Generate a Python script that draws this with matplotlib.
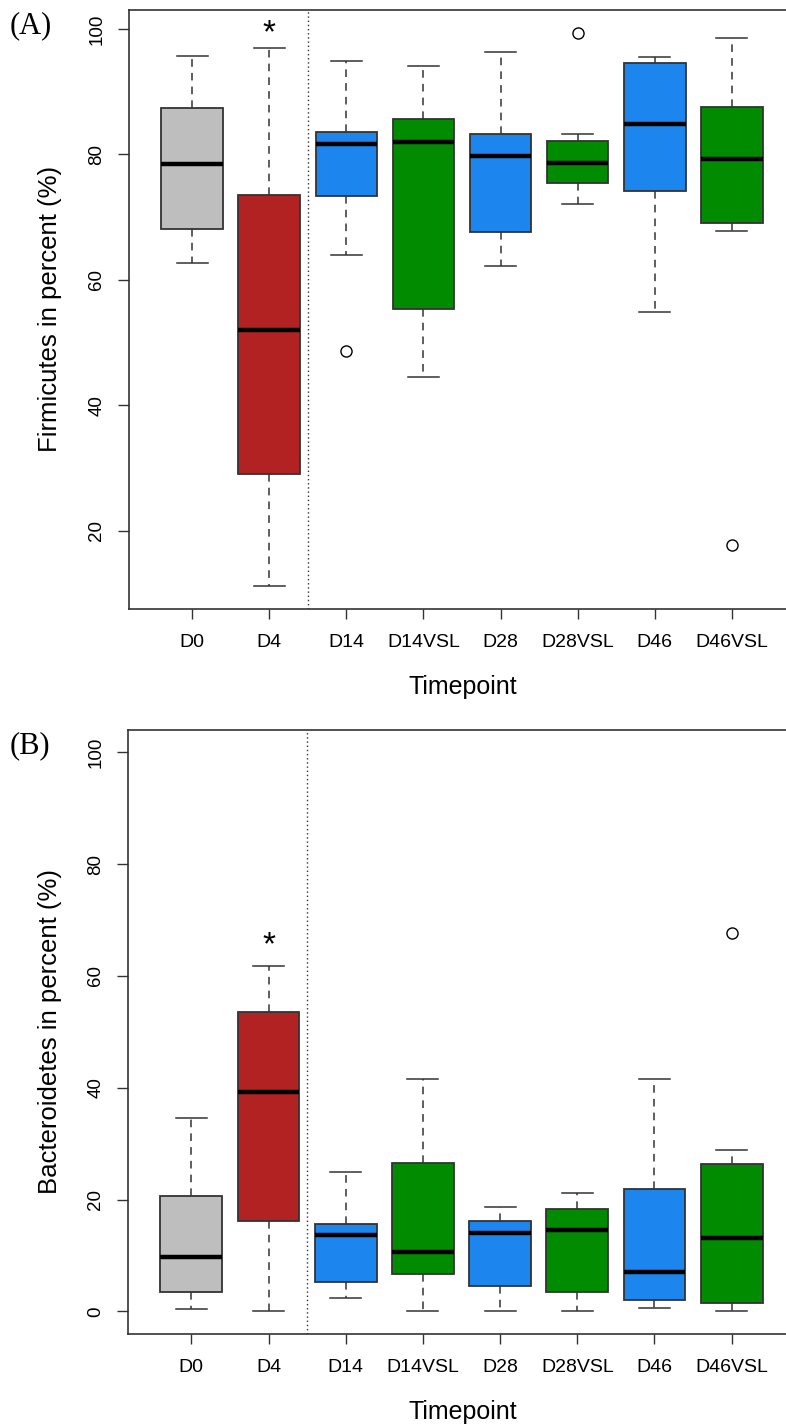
import matplotlib
matplotlib.use("Agg")
import matplotlib.pyplot as plt

plt.rcParams['font.family'] = ['Liberation Sans', 'DejaVu Sans']

timepoints = ["D0", "D4", "D14", "D14VSL", "D28", "D28VSL", "D46", "D46VSL"]
box_colors = ["#BEBEBE", "#B22222", "#1C86EE", "#008B00",
              "#1C86EE", "#008B00", "#1C86EE", "#008B00"]

# Firmicutes (%), five-number summaries per timepoint
firm_lo = [62.7, 11.2, 64.0, 44.5, 62.2, 72.1, 54.9, 67.8]
firm_q1 = [68.1, 29.1, 73.4, 55.3, 67.7, 75.4, 74.2, 69.0]
firm_med = [78.4, 52.0, 81.7, 81.9, 79.8, 78.6, 84.8, 79.2]
firm_q3 = [87.4, 73.6, 83.5, 85.6, 83.3, 82.1, 94.6, 87.5]
firm_hi = [95.7, 96.9, 94.8, 94.0, 96.3, 83.3, 95.5, 98.5]
firm_out = [[], [], [48.7], [], [], [99.4], [], [17.7]]

# Bacteroidetes (%)
bact_lo = [0.4, 0.0, 2.4, 0.0, 0.0, 0.0, 0.65, 0.0]
bact_q1 = [3.5, 16.1, 5.3, 6.7, 4.5, 3.5, 2.0, 1.5]
bact_med = [9.8, 39.2, 13.7, 10.6, 14.0, 14.6, 7.0, 13.1]
bact_q3 = [20.7, 53.6, 15.6, 26.5, 16.1, 18.3, 21.8, 26.3]
bact_hi = [34.6, 61.7, 25.0, 41.5, 18.6, 21.1, 41.6, 28.8]
bact_out = [[], [], [], [], [], [], [], [67.6]]

# significance marks (x index, y value)
firm_star = (2, 97.9)
bact_star = (2, 63.9)

W, H = 786, 1428
fig = plt.figure(figsize=(W / 100, H / 100), dpi=100)

AX = '#333333'


def stats_list(lo, q1, med, q3, hi, out):
    return [dict(whislo=a, q1=b, med=c, q3=d, whishi=e, fliers=f, label=t)
            for a, b, c, d, e, f, t in zip(lo, q1, med, q3, hi, out, timepoints)]


def panel(rect, stats, ylim, ylabel, tag, star):
    ax = fig.add_axes(rect)
    pos = list(range(1, len(timepoints) + 1))
    bp = ax.bxp(stats, positions=pos, widths=0.8, capwidths=0.4,
                patch_artist=True, manage_ticks=False,
                boxprops=dict(edgecolor=AX, linewidth=1.3),
                medianprops=dict(color='black', linewidth=3.2, solid_capstyle='butt'),
                whiskerprops=dict(color=AX, linewidth=1.1, linestyle=(0, (5, 4))),
                capprops=dict(color=AX, linewidth=1.1),
                flierprops=dict(marker='o', markerfacecolor='none',
                                markeredgecolor='black', markersize=8,
                                markeredgewidth=1.0))
    for patch, c in zip(bp['boxes'], box_colors):
        patch.set_facecolor(c)
    ax.axvline(2.5, color=AX, linewidth=1.0, linestyle=(0, (1, 2)))
    ax.set_xlim(0.18, 8.82)
    ax.set_ylim(*ylim)
    ax.set_xticks(pos)
    ax.set_xticklabels(timepoints)
    ax.set_yticks([t for t in [0, 20, 40, 60, 80, 100] if ylim[0] <= t <= ylim[1]])
    for lab in ax.get_yticklabels():
        lab.set_rotation(90)
        lab.set_va('center')
    ax.tick_params(axis='x', length=7, width=1.0, color=AX, pad=11, labelsize=14)
    ax.tick_params(axis='y', length=8, width=1.0, color=AX, pad=9, labelsize=13.5)
    for s in ax.spines.values():
        s.set_color(AX)
        s.set_linewidth(1.2)
    ax.text(star[0], star[1], "*", ha='center', va='baseline', fontsize=24)
    # axis titles and panel tag in figure pixels
    l, b, w, h = rect
    fig.text(50 / W, b + h / 2, ylabel, rotation=90, ha='center', va='center',
             fontsize=18.5)
    fig.text(463 / W, b - 85 / H, "Timepoint", ha='center', va='baseline',
             fontsize=18)
    fig.text(10 / W, b + h - 16 / H, tag, ha='left', va='center', fontsize=22,
             family='Liberation Serif')
    return ax


panel([129 / W, 1 - 608.7 / H, 666 / W, 598.7 / H],
      stats_list(firm_lo, firm_q1, firm_med, firm_q3, firm_hi, firm_out),
      (7.6, 103.0), "Firmicutes in percent (%)", "(A)", firm_star)

panel([128 / W, 1 - 1333.7 / H, 667 / W, 603.7 / H],
      stats_list(bact_lo, bact_q1, bact_med, bact_q3, bact_hi, bact_out),
      (-4.0, 104.0), "Bacteroidetes in percent (%)", "(B)", bact_star)

fig.savefig("out.png", dpi=100)
